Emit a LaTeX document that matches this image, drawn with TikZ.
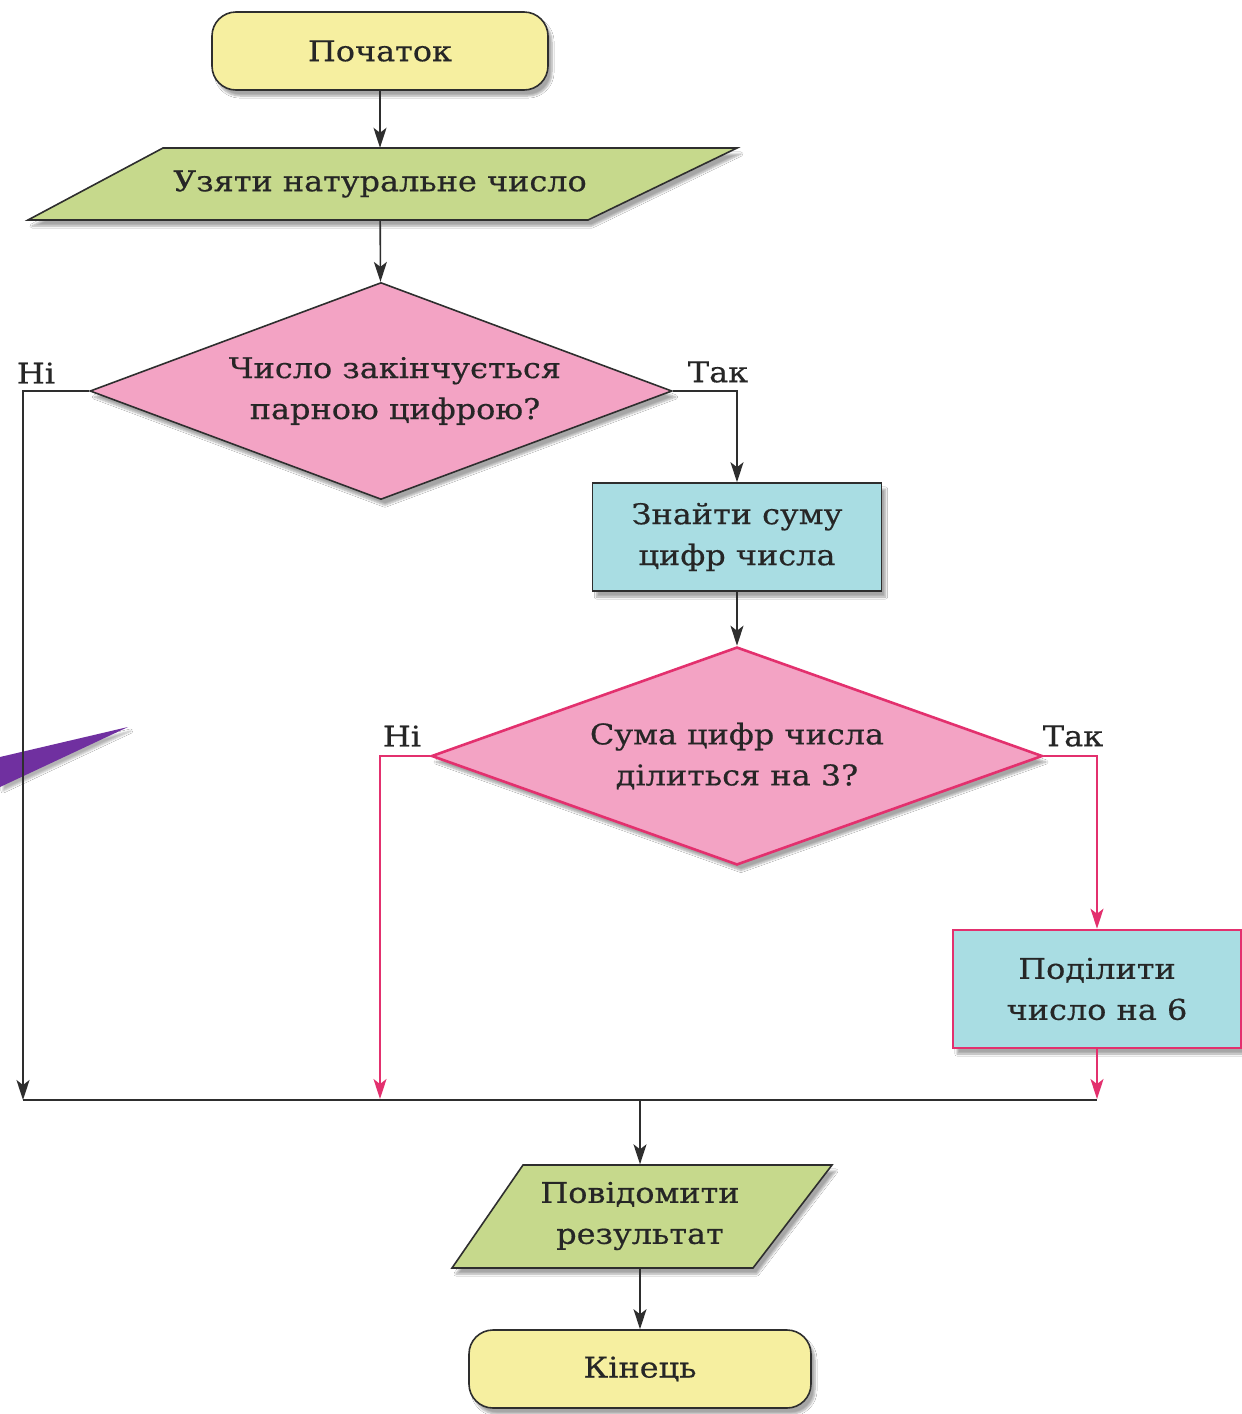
\documentclass[tikz,border=0pt]{standalone}
\usepackage{fontspec}
\setmainfont{DejaVu Serif}[FakeStretch=1.12, FakeBold=0.5]
\usepackage{xcolor}
\usetikzlibrary{shapes.geometric,arrows.meta,shadows.blur}
\definecolor{termyellow}{HTML}{F6EFA0}
\definecolor{iogreen}{HTML}{C6D98C}
\definecolor{testpink}{HTML}{F3A3C4}
\definecolor{procblue}{HTML}{A9DDE3}
\definecolor{linkpink}{HTML}{E3306E}
\definecolor{linedark}{HTML}{2E2E2E}
\definecolor{pointer}{HTML}{7030A0}
\newcommand*{\mytextstyle}{\fontsize{28.5}{41}\selectfont\color{black!85}}
\tikzset{
  shade/.style = {blur shadow = {shadow xshift = 4pt, shadow yshift = -6pt,
      shadow opacity = 35, shadow blur steps = 6}},
  base/.style = {draw = linedark, line width = 1.6pt, align = center,
    font = \mytextstyle, inner sep = 0pt, shade},
  term/.style = {base, rectangle, rounded corners = 24pt, fill = termyellow,
    minimum width = 336pt, minimum height = 78pt},
  iobox/.style = {draw = linedark, line width = 1.6pt, fill = iogreen, shade},
  iotext/.style = {align = center, font = \mytextstyle, inner sep = 0pt,
    rectangle},
  test/.style = {base, diamond, aspect = 2.7, fill = testpink},
  proc/.style = {base, rectangle, fill = procblue,
    minimum width = 289pt, minimum height = 108pt},
  pinkline/.style = {draw = linkpink, line width = 2.6pt},
  lbl/.style = {font = \mytextstyle},
  arr/.style = {draw = linedark, line width = 1.6pt,
    -{Stealth[length = 20pt, width = 13pt, inset = 5pt]}},
  pinkarr/.style = {arr, draw = linkpink}
}

\begin{document}
\begin{tikzpicture}[x = 1pt, y = -1pt]
  \useasboundingbox[fill = white] (0,0) rectangle (1242,1414);
  % pointer on the left
  \fill[pointer, blur shadow = {shadow xshift = 3pt, shadow yshift = -4pt,
      shadow opacity = 30}] (0,757) -- (128,727) -- (0,787) -- cycle;
  % input/output outlines
  \path[iobox] (163,148) -- (737,148) -- (588,220) -- (28,220) -- cycle;
  \path[iobox] (523,1165) -- (832,1165) -- (753,1268) -- (452,1268) -- cycle;
  % blocks
  \node[term] (start) at (380,51) {Початок};
  \node[iotext, minimum width = 560pt, minimum height = 72pt] (input)
    at (380,184) {Узяти натуральне число};
  \node[test, minimum width = 582pt, minimum height = 217pt] (even)
    at (381,391) {\hspace*{28pt}Число закінчується\\\hspace*{28pt}парною цифрою?};
  \node[proc] (sum) at (737,537) {Знайти суму\\цифр числа};
  \node[test, pinkline, minimum width = 611pt, minimum height = 218pt] (div3)
    at (737,756) {Сума цифр числа\\ділиться на 3?};
  \node[proc, pinkline, minimum width = 288pt, minimum height = 118pt] (div6)
    at (1097,989) {Поділити\\число на 6};
  \node[iotext, minimum width = 300pt, minimum height = 103pt] (output)
    at (640,1216) {Повідомити\\результат};
  \node[term, minimum width = 342pt] (finish) at (640,1369) {Кінець};
  % labels
  \node[lbl] (no1) at (36,373) {Ні};
  \node[lbl] (yes1) at (718,372) {Так};
  \node[lbl] (no2) at (402,736) {Ні};
  \node[lbl] (yes2) at (1073,736) {Так};
  % joins
  \coordinate (joinL) at (23,1100);
  \coordinate (joinM) at (380,1099);
  \coordinate (joinC) at (640,1100);
  \coordinate (joinR) at (1097,1100);
  \coordinate (endR) at (1097,1099);
  % connectors
  \draw[arr] (start) -- (input);
  \draw[arr] (input) -- (even);
  \draw[arr] (even.west) -| (joinL);
  \draw[arr] (even.east) -| (sum.north);
  \draw[arr] (sum) -- (div3);
  \draw[pinkarr] (div3.west) -| (joinM);
  \draw[pinkarr] (div3.east) -| (div6.north);
  \draw[pinkarr] (div6.south) -- (endR);
  \draw[draw = linedark, line width = 1.6pt] (joinL) -- (joinR);
  \draw[arr] (joinC) -- (output);
  \draw[arr] (output) -- (finish);
\end{tikzpicture}
\end{document}
